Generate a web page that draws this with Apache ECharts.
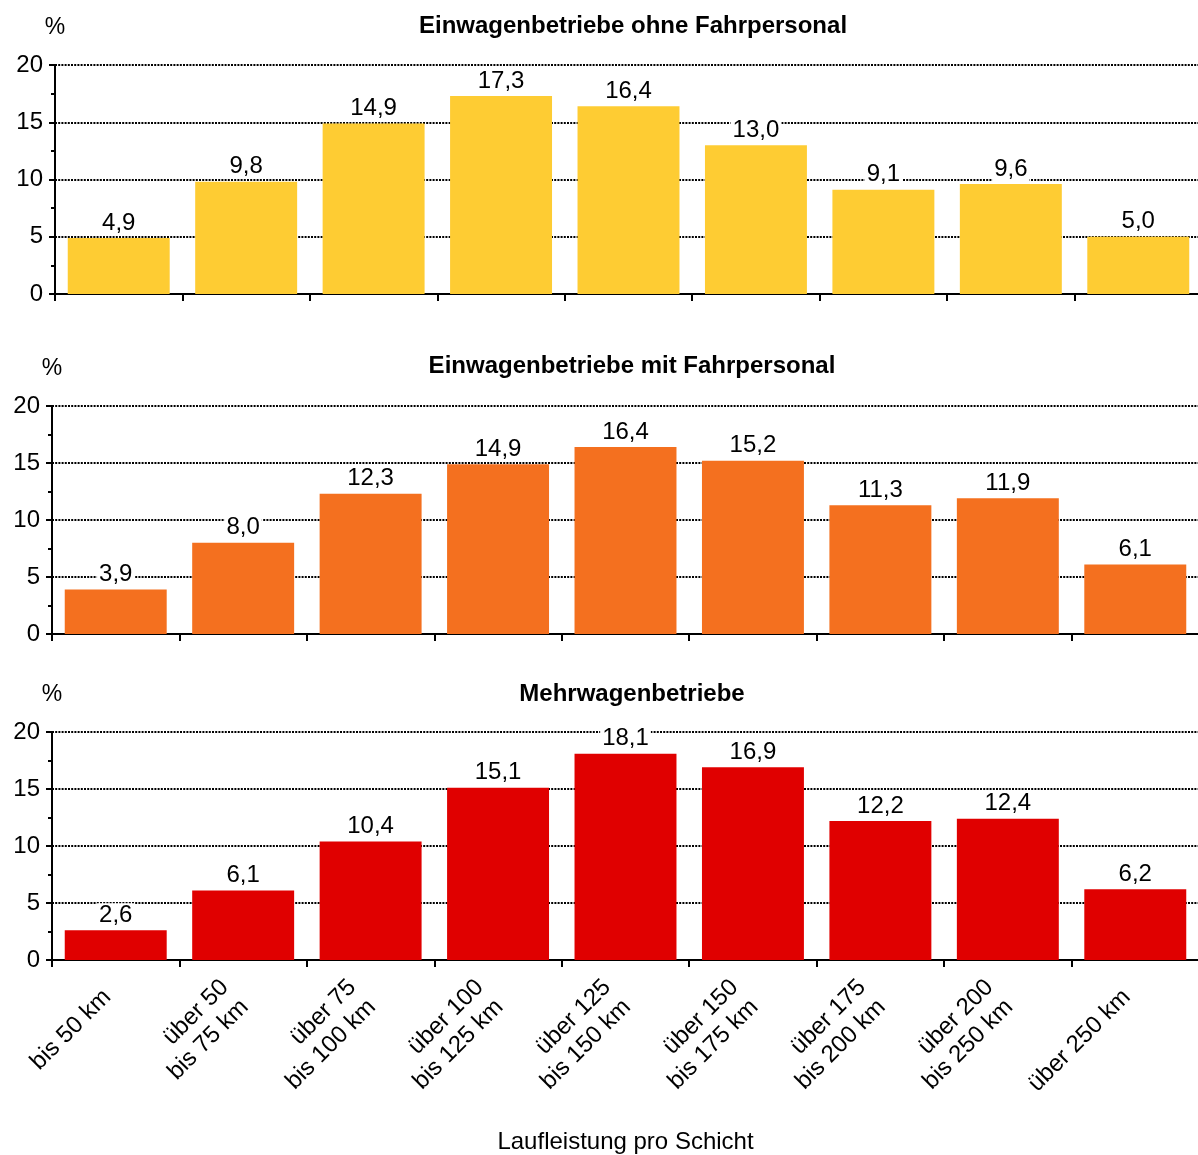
<!DOCTYPE html>
<html>
<head>
<meta charset="utf-8">
<script src="https://cdn.jsdelivr.net/npm/echarts@6/dist/echarts.min.js"></script>
<style>
html,body{margin:0;padding:0;background:#fff;}
#chart{width:1198px;height:1155px;}
</style>
</head>
<body>
<div id="chart"></div>
<script>
const categories = ['bis 50 km', 'über 50\nbis 75 km', 'über 75\nbis 100 km', 'über 100\nbis 125 km', 'über 125\nbis 150 km', 'über 150\nbis 175 km', 'über 175\nbis 200 km', 'über 200\nbis 250 km', 'über 250 km'];
const ohneFahrpersonal = [4.9, 9.8, 14.9, 17.3, 16.4, 13.0, 9.1, 9.6, 5.0];
const mitFahrpersonal = [3.9, 8.0, 12.3, 14.9, 16.4, 15.2, 11.3, 11.9, 6.1];
const mehrwagen = [2.6, 6.1, 10.4, 15.1, 18.1, 16.9, 12.2, 12.4, 6.2];
const panelTitles = ['Einwagenbetriebe ohne Fahrpersonal', 'Einwagenbetriebe mit Fahrpersonal', 'Mehrwagenbetriebe'];
const yTicks = [0, 5, 10, 15, 20];
const xAxisName = 'Laufleistung pro Schicht';

const FONT = '"Liberation Sans", Arial, sans-serif';
const colors = ['#FECC33', '#F4701F', '#E00000'];
const seriesData = [ohneFahrpersonal, mitFahrpersonal, mehrwagen];
const grids = [
  {left: 55, top: 65, width: 1147, height: 229, outerBoundsMode: 'none'},
  {left: 52, top: 406, width: 1147, height: 228, outerBoundsMode: 'none'},
  {left: 52, top: 732, width: 1147, height: 228, outerBoundsMode: 'none'}
];
const titleTops = [9, 349, 677];
const titleCenters = [628, 627, 627];

const chart = echarts.init(document.getElementById('chart'), null, {renderer: 'canvas'});

const option = {
  backgroundColor: '#fff',
  animation: false,
  textStyle: {fontFamily: FONT},
  title: panelTitles.map((t, i) => ({
    text: t,
    left: titleCenters[i],
    top: titleTops[i],
    textAlign: 'center',
    textStyle: {fontFamily: FONT, fontSize: 24, fontWeight: 'bold', color: '#000'}
  })),
  grid: grids,
  xAxis: grids.map((g, i) => ({
    type: 'category',
    gridIndex: i,
    data: categories,
    boundaryGap: true,
    axisLine: {show: true, lineStyle: {color: '#000', width: 2}},
    axisTick: {show: true, alignWithLabel: false, length: 7, lineStyle: {color: '#000', width: 2}},
    axisLabel: i === 2 ? {
      show: true, rotate: 45, interval: 0, margin: 25,
      fontFamily: FONT, fontSize: 24, color: '#000', lineHeight: 28, align: 'right',
      padding: [0, 12, 0, 0]
    } : {show: false},
    splitLine: {show: false},
    name: i === 2 ? xAxisName : '',
    nameLocation: 'middle',
    nameGap: 170,
    nameTextStyle: {fontFamily: FONT, fontSize: 24, color: '#000'}
  })),
  yAxis: grids.map((g, i) => ({
    type: 'value',
    gridIndex: i,
    min: yTicks[0],
    max: yTicks[yTicks.length - 1],
    interval: yTicks[1] - yTicks[0],
    name: '%',
    nameLocation: 'end',
    nameGap: 26,
    nameTextStyle: {fontFamily: FONT, fontSize: 23, color: '#000', align: 'center'},
    axisLine: {show: true, lineStyle: {color: '#000', width: 2}},
    axisTick: {show: true, length: 6, lineStyle: {color: '#000', width: 2}},
    minorTick: {show: true, splitNumber: 2, length: 4, lineStyle: {color: '#000', width: 2}},
    axisLabel: {fontFamily: FONT, fontSize: 24, color: '#000', margin: 12},
    splitLine: {show: true, lineStyle: {color: '#000', width: 2, type: [2, 1.2]}}
  })),
  series: seriesData.map((d, i) => ({
    type: 'bar',
    xAxisIndex: i,
    yAxisIndex: i,
    data: d,
    barCategoryGap: '20%',
    itemStyle: {color: colors[i]},
    label: {
      show: true,
      position: 'top',
      distance: 3,
      fontFamily: FONT,
      fontSize: 24,
      color: '#000',
      backgroundColor: '#fff',
      padding: [0, 2, 0, 2],
      formatter: p => p.value.toFixed(1).replace('.', ',')
    }
  }))
};
chart.setOption(option);
</script>
</body>
</html>
